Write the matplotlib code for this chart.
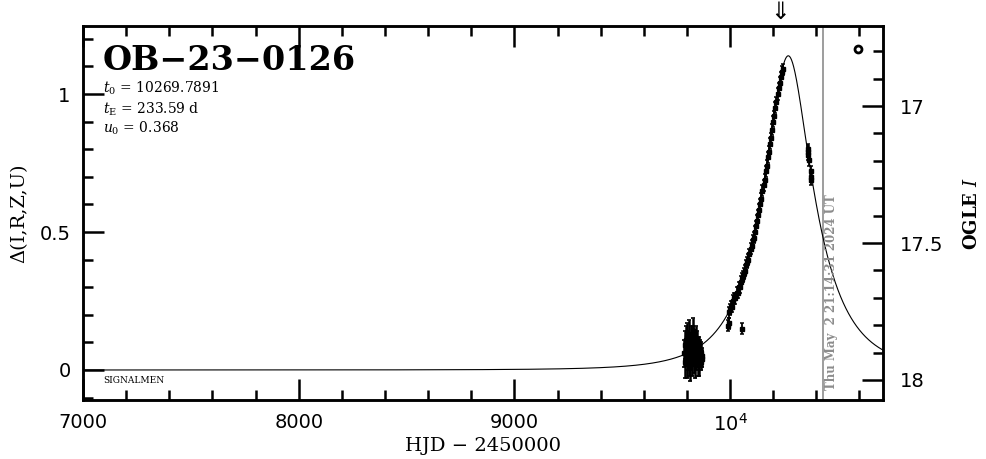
import numpy as np
import matplotlib
matplotlib.use("Agg")
import matplotlib.pyplot as plt
from matplotlib.ticker import MultipleLocator, FixedLocator, FixedFormatter

# ---------------- data ----------------
event_name = "OB−23−0126"
t0 = 10269.7891
tE = 233.59
u0 = 0.368
date_text = "Thu May  2 21:14:31 2024 UT"
now_hjd = 10433
arrow_hjd = 10231

cluster_hjd = [9788, 9790, 9792, 9794, 9796, 9798, 9800, 9802, 9804, 9806,
               9808, 9810, 9812, 9814, 9816, 9818, 9820, 9822, 9824, 9826,
               9828, 9830, 9832, 9834, 9836, 9838, 9840, 9842, 9844, 9846,
               9848, 9850, 9852, 9854, 9856, 9858, 9860, 9862, 9864, 9866,
               9868, 9870]
cluster_delta = [0.06, 0.09, 0.03, 0.11, 0.07, 0.02, 0.08, 0.12, 0.05, 0.10,
                 0.04, 0.13, 0.07, 0.09, 0.01, 0.06, 0.11, 0.08, 0.03, 0.10,
                 0.14, 0.12, 0.05, 0.08, 0.02, 0.09, 0.07, 0.11, 0.04, 0.06,
                 0.10, 0.03, 0.08, 0.05, 0.09, 0.02, 0.07, 0.04, 0.06, 0.03,
                 0.05, 0.04]
cluster_err = [0.05, 0.05, 0.06, 0.05, 0.04, 0.05, 0.06, 0.05, 0.05, 0.04,
               0.06, 0.05, 0.05, 0.04, 0.05, 0.06, 0.05, 0.04, 0.05, 0.05,
               0.05, 0.04, 0.06, 0.05, 0.05, 0.04, 0.05, 0.05, 0.04, 0.05,
               0.04, 0.05, 0.04, 0.04, 0.03, 0.04, 0.04, 0.03, 0.04, 0.03,
               0.03, 0.03]

rise_hjd = [9989, 9993, 9995, 10000, 10005, 10010, 10015, 10020, 10025, 10030,
            10035, 10040, 10045, 10050, 10054, 10055, 10060, 10065, 10070, 10075,
            10080, 10085, 10090, 10095, 10100, 10105, 10110, 10115, 10120, 10125,
            10130, 10135, 10140, 10145, 10150, 10155, 10160, 10165, 10170, 10175,
            10180, 10185, 10190, 10195, 10200, 10205, 10210, 10215, 10220, 10225,
            10230, 10235, 10240, 10245]
rise_delta = [0.16, 0.17, 0.21, 0.22, 0.23, 0.23, 0.25, 0.26, 0.26, 0.28,
              0.28, 0.30, 0.30, 0.32, 0.15, 0.33, 0.34, 0.35, 0.36, 0.38,
              0.39, 0.40, 0.42, 0.44, 0.45, 0.47, 0.48, 0.50, 0.52, 0.54,
              0.56, 0.58, 0.60, 0.62, 0.65, 0.67, 0.69, 0.72, 0.74, 0.77,
              0.79, 0.82, 0.84, 0.87, 0.90, 0.92, 0.95, 0.97, 1.00, 1.02,
              1.04, 1.06, 1.08, 1.09]
rise_err = [0.02, 0.02, 0.02, 0.02, 0.02, 0.02, 0.02, 0.02, 0.02, 0.02,
            0.02, 0.02, 0.02, 0.02, 0.02, 0.02, 0.02, 0.02, 0.02, 0.02,
            0.02, 0.02, 0.02, 0.02, 0.02, 0.02, 0.02, 0.02, 0.02, 0.02,
            0.02, 0.02, 0.02, 0.02, 0.02, 0.02, 0.02, 0.02, 0.02, 0.02,
            0.02, 0.02, 0.02, 0.02, 0.02, 0.02, 0.02, 0.02, 0.02, 0.02,
            0.02, 0.02, 0.02, 0.02]

decl_hjd = [10359, 10361, 10363, 10365, 10373, 10375, 10377]
decl_delta = [0.80, 0.78, 0.79, 0.76, 0.72, 0.70, 0.69]
decl_err = [0.02, 0.02, 0.02, 0.02, 0.02, 0.02, 0.02]

x_ticks = [7000, 8000, 9000, 10000]
x_ticklabels = ["7000", "8000", "9000", r"$\mathregular{10^4}$"]
y_ticks = [0, 0.5, 1]
y_ticklabels = ["0", "0.5", "1"]
mag_ticks = [17, 17.5, 18]
mag_ticklabels = ["17", "17.5", "18"]

xlim = (7000, 10709)
ylim = (-0.1087, 1.2464)
maglim = (18.073, 16.708)

# ---------------- figure ----------------
plt.rcParams['mathtext.fontset'] = 'dejavuserif'
fig = plt.figure(figsize=(9.86, 4.59), dpi=100)
ax = fig.add_axes([83/986, 1 - 400/459, 800/986, 374/459])

# model curve
tt = np.linspace(xlim[0], xlim[1], 3000)
uu = np.sqrt(u0**2 + ((tt - t0) / tE)**2)
AA = (uu**2 + 2) / (uu * np.sqrt(uu**2 + 4))
ax.plot(tt, 2.5 * np.log10(AA), color='black', lw=0.8, zorder=3)

ax.errorbar(cluster_hjd, cluster_delta, yerr=cluster_err, fmt='s',
            color='black', ms=3, elinewidth=1.8, capsize=1.5, capthick=1.2,
            zorder=4)
ekw = dict(fmt='s', color='black', ms=2.4, elinewidth=1.3, capsize=1.3,
           capthick=1.1, zorder=4)
ax.errorbar(rise_hjd, rise_delta, yerr=rise_err, **ekw)
ax.errorbar(decl_hjd, decl_delta, yerr=decl_err, **ekw)

ax.axvline(now_hjd, color='#8c8c8c', lw=1.2, zorder=2)
ax.text(10468, 0.027, date_text, rotation=90, color='#8c8c8c',
        fontsize=8.5, fontweight='bold', family='DejaVu Serif',
        ha='center', va='bottom', transform=ax.get_xaxis_transform())

ax.set_xlim(*xlim)
ax.set_ylim(*ylim)

ax.xaxis.set_major_locator(FixedLocator(x_ticks))
ax.xaxis.set_major_formatter(FixedFormatter(x_ticklabels))
ax.xaxis.set_minor_locator(MultipleLocator(200))
ax.yaxis.set_major_locator(FixedLocator(y_ticks))
ax.yaxis.set_major_formatter(FixedFormatter(y_ticklabels))
ax.yaxis.set_minor_locator(MultipleLocator(0.1))

ax.tick_params(which='both', direction='in', top=True, right=False,
               width=1.8, labelsize=14, pad=9)
ax.tick_params(which='major', length=15)
ax.tick_params(which='minor', length=7.5)
for s in ax.spines.values():
    s.set_linewidth(1.8)

ax.set_xlabel("HJD − 2450000", family='DejaVu Serif', fontsize=14, labelpad=2)
ax.set_ylabel("Δ(I,R,Z,U)", family='DejaVu Serif', fontsize=14, labelpad=8)

ax2 = ax.twinx()
ax2.set_ylim(*maglim)
ax2.yaxis.set_major_locator(FixedLocator(mag_ticks))
ax2.yaxis.set_major_formatter(FixedFormatter(mag_ticklabels))
ax2.yaxis.set_minor_locator(MultipleLocator(0.1))
ax2.tick_params(which='both', direction='in', width=1.8, labelsize=14, pad=12)
ax2.tick_params(which='major', length=15)
ax2.tick_params(which='minor', length=7.5)
ax2.set_ylabel(r"OGLE $\mathit{I}$", family='DejaVu Serif', fontsize=13,
               fontweight='bold', labelpad=14)
for s in ax2.spines.values():
    s.set_linewidth(1.8)

# annotations
ax.text(0.024, 0.882, event_name, transform=ax.transAxes, family='DejaVu Serif',
        fontsize=24, fontweight='bold', ha='left', va='baseline')
ax.text(0.025, 0.822, r"$t_{\rm 0}$ = %.4f" % t0, transform=ax.transAxes,
        family='DejaVu Serif', fontsize=10, ha='left', va='baseline')
ax.text(0.025, 0.766, r"$t_{\rm E}$ = %.2f d" % tE, transform=ax.transAxes,
        family='DejaVu Serif', fontsize=10, ha='left', va='baseline')
ax.text(0.025, 0.714, r"$u_{\rm 0}$ = %.3f" % u0, transform=ax.transAxes,
        family='DejaVu Serif', fontsize=10, ha='left', va='baseline')
ax.text(0.025, 0.045, "SIGNALMEN", transform=ax.transAxes,
        family='DejaVu Serif', fontsize=6.5, ha='left', va='baseline')

ax.plot([10593], [1.163], marker='o', ms=5, mfc='white', mec='black', mew=2,
        zorder=5)

ax.text(arrow_hjd, 1.005, "⇓", transform=ax.get_xaxis_transform(),
        family='DejaVu Sans', fontsize=17, ha='center', va='bottom')

fig.savefig("out.png", dpi=100)
